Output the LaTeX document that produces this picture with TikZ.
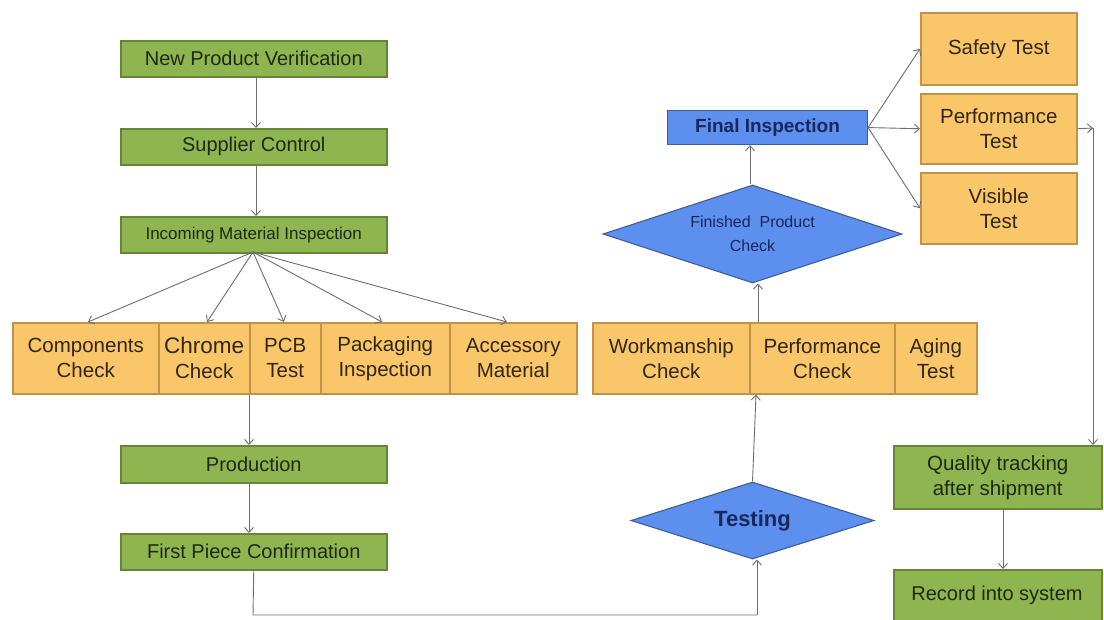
\documentclass[tikz,border=0pt]{standalone}
\usepackage{fontspec}
\setmainfont{Liberation Sans}
\usetikzlibrary{shapes.geometric,arrows.meta}
\definecolor{gfill}{HTML}{8FB550}
\definecolor{gdraw}{HTML}{66853A}
\definecolor{ofill}{HTML}{FAC66A}
\definecolor{odraw}{HTML}{C0924A}
\definecolor{bfill}{HTML}{5C8FEE}
\definecolor{bdraw}{HTML}{3E5E96}
\definecolor{gtext}{HTML}{1E2A10}
\definecolor{otext}{HTML}{33260F}
\definecolor{btext}{HTML}{18285A}
\definecolor{arrc}{HTML}{6E6E6E}
\begin{document}
\begin{tikzpicture}[x=1pt,y=-1pt,
  gbox/.style={draw=gdraw,line width=1.5pt,fill=gfill,text=gtext,inner sep=0pt,anchor=north west,align=center,font=\fontsize{20}{24}\selectfont},
  obox/.style={draw=odraw,line width=1.5pt,fill=ofill,text=otext,inner sep=0pt,anchor=north west,align=center,font=\fontsize{20.5}{25}\selectfont},
  bdia/.style={diamond,draw=bdraw,line width=1.1pt,fill=bfill,text=btext,inner sep=0pt,aspect=2},
  arr/.style={draw=arrc,line width=0.9pt,-{Straight Barb[length=5pt,width=9pt]}},
  ln/.style={draw=arrc,line width=0.9pt}]
\useasboundingbox (0,0) rectangle (1104,619);
% left column
\node[gbox,minimum width=266pt,minimum height=36pt] (npv) at (120,40) {New Product Verification};
\node[gbox,minimum width=266pt,minimum height=36pt] (sc) at (120,128) {Supplier Control};
\node[gbox,minimum width=266pt,minimum height=36pt,font=\fontsize{17}{20}\selectfont] (imi) at (120,216) {Incoming Material Inspection};
% orange row 1
\node[obox,minimum width=146pt,minimum height=71pt] (comp) at (12,322) {Components\\Check};
\node[obox,minimum width=91pt,minimum height=71pt] (chr) at (158,322) {{\fontsize{22.5}{25}\selectfont Chrome}\\Check};
\node[obox,minimum width=71pt,minimum height=71pt] (pcb) at (249,322) {PCB\\Test};
\node[obox,minimum width=129pt,minimum height=71pt] (pack) at (320,322) {Packaging\\Inspection};
\node[obox,minimum width=127pt,minimum height=71pt] (acc) at (449,322) {Accessory\\Material};
\node[gbox,minimum width=266pt,minimum height=37pt] (prod) at (120,445) {Production};
\node[gbox,minimum width=266pt,minimum height=36pt] (fpc) at (120,533) {First Piece Confirmation};
% right side
\node[obox,minimum width=156pt,minimum height=72pt] (saf) at (920,12) {Safety Test};
\node[obox,minimum width=156pt,minimum height=70pt] (perf) at (920,93) {Performance\\Test};
\node[obox,minimum width=156pt,minimum height=71pt] (vis) at (920,172) {Visible\\Test};
\node[draw=bdraw,line width=1.1pt,fill=bfill,text=btext,inner sep=0pt,anchor=north west,minimum width=200pt,minimum height=34pt,font=\bfseries\fontsize{19}{22}\selectfont] (fin) at (667,110) {Final Inspection};
\node[bdia,minimum width=299pt,minimum height=88pt,font=\fontsize{16}{24}\selectfont,align=center] (fpcd) at (752.5,234) {Finished\ \ Product\\Check};
\node[obox,minimum width=157pt,minimum height=71pt] (work) at (592,322) {Workmanship\\Check};
\node[obox,minimum width=145pt,minimum height=71pt] (pchk) at (749,322) {Performance\\Check};
\node[obox,minimum width=82pt,minimum height=71pt] (aging) at (894,322) {Aging\\Test};
\node[bdia,minimum width=243pt,minimum height=77pt,font=\bfseries\fontsize{22}{24}\selectfont] (test) at (752.5,520.5) {Testing};
\node[gbox,minimum width=208pt,minimum height=63pt,font=\fontsize{20.5}{25}\selectfont] (qt) at (893,445) {Quality tracking\\after shipment};
\node[draw=gdraw,line width=1.5pt,fill=gfill,inner sep=0pt,anchor=north west,minimum width=208pt,minimum height=60pt] (rec) at (893,569) {};
\node[text=gtext,font=\fontsize{20}{24}\selectfont] (rect) at (997,595) {Record into system};
% coordinates
\coordinate (imib) at (253,252);
\coordinate (fpcend) at (253,615);
\coordinate (testend) at (757,615);
\coordinate (perfout) at (1093,128);
% connectors left
\draw[arr] (npv.south -| 256,0) -- (sc.north -| 256,0);
\draw[arr] (sc.south -| 256,0) -- (imi.north -| 256,0);
\draw[arr] (imib) -- (comp.north -| 88,0);
\draw[arr] (imib) -- (chr.north -| 207,0);
\draw[arr] (imib) -- (pcb.north -| 284,0);
\draw[arr] (imib) -- (pack.north -| 382,0);
\draw[arr] (imib) -- (acc.north -| 507,0);
\draw[arr] (pcb.south west) -- (prod.north -| 249,0);
\draw[arr] (prod.south -| 249,0) -- (fpc.north -| 249,0);
\draw[ln] (fpc.south) -- (fpcend) -- (testend);
\draw[arr] (testend) -- (test.south -| testend);
\draw[arr] (test.north) -- (pchk.south -| 756,0);
\draw[arr] (pchk.north -| 758,0) -- (fpcd.south -| 758,0);
\draw[arr] (fpcd.north -| 750,0) -- (fin.south -| 750,0);
\draw[arr] (fin.east) -- (saf.west);
\draw[arr] (fin.east) -- (perf.west);
\draw[arr] (fin.east) -- (vis.west);
\draw[arr] (perf.east) -- (perfout);
\draw[arr] (perfout) -- (qt.north -| perfout);
\draw[arr] (qt.south -| 1003,0) -- (rec.north -| 1003,0);
\end{tikzpicture}
\end{document}
